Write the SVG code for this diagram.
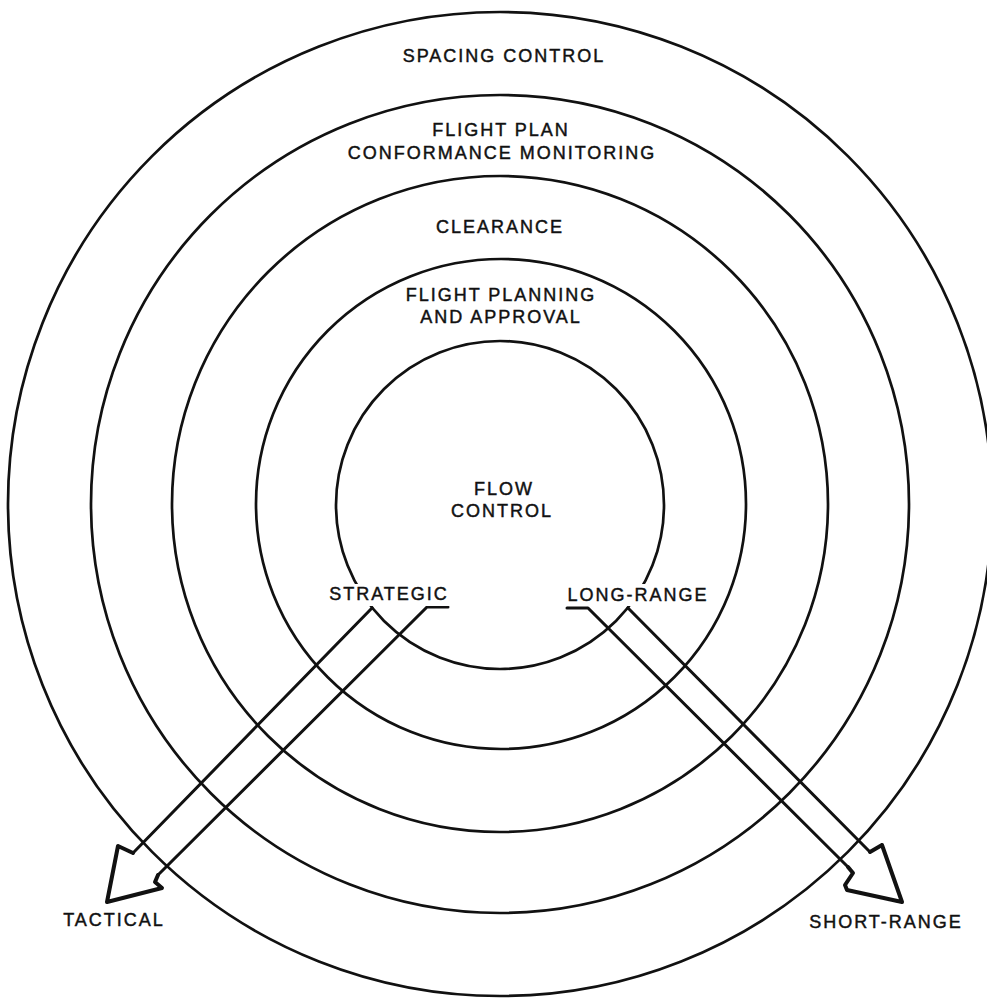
<svg xmlns="http://www.w3.org/2000/svg" width="987" height="999" viewBox="0 0 987 999">
  <style>
    .ring { fill: none; stroke: #111; stroke-width: 2.7; }
    .lbl { font-family: "Liberation Sans", Arial, Helvetica, sans-serif; font-size: 18px; letter-spacing: 2px; fill: #111; stroke: #111; stroke-width: 0.45; text-anchor: middle; }
    .shaft { fill: none; stroke: #111; stroke-width: 3; stroke-linejoin: round; stroke-linecap: round; }
    .head { fill: none; stroke: #111; stroke-width: 4; stroke-linejoin: round; stroke-linecap: round; }
  </style>
  <rect x="0" y="0" width="987" height="999" fill="#fff"/>

  <g id="spacing-control">
    <circle class="ring" cx="500" cy="504" r="492"/>
    <text class="lbl" x="504" y="62">SPACING CONTROL</text>
  </g>
  <g id="conformance-monitoring">
    <circle class="ring" cx="500" cy="504" r="409"/>
    <text class="lbl" x="501" y="136">FLIGHT PLAN</text>
    <text class="lbl" x="502" y="159">CONFORMANCE MONITORING</text>
  </g>
  <g id="clearance">
    <circle class="ring" cx="500" cy="504" r="328"/>
    <text class="lbl" x="500" y="233">CLEARANCE</text>
  </g>
  <g id="flight-planning">
    <circle class="ring" cx="501" cy="504" r="245"/>
    <text class="lbl" x="501" y="301">FLIGHT PLANNING</text>
    <text class="lbl" x="501" y="323">AND APPROVAL</text>
  </g>
  <g id="flow-control">
    <circle class="ring" cx="500" cy="505" r="164"/>
    <text class="lbl" x="504" y="495">FLOW</text>
    <text class="lbl" x="502" y="517">CONTROL</text>
  </g>

  <g id="connectors">
    <g id="strategic-tactical">
      <path class="shaft" d="M448,607 L427,607 L158,875 M133,853 L372,608"/>
      <path class="head" d="M158,875 L155,882 L162,888 L107,902 L118,846 L133,853"/>
    </g>
    <g id="longrange-shortrange">
      <path class="shaft" d="M567,608 L588,608 L848,867 M870,852 L628,608"/>
      <path class="head" d="M848,867 L853,873 L845,885 L847,890 L902,902 L882,845 L870,852"/>
    </g>
  </g>

  <g id="strategic">
    <rect x="326" y="584" width="125" height="22" fill="#fff"/>
    <text class="lbl" x="389" y="600">STRATEGIC</text>
  </g>
  <g id="long-range">
    <rect x="564" y="584" width="146" height="22" fill="#fff"/>
    <text class="lbl" x="638" y="601">LONG-RANGE</text>
  </g>
  <g id="tactical">
    <text class="lbl" x="114" y="926">TACTICAL</text>
  </g>
  <g id="short-range">
    <text class="lbl" x="886" y="928">SHORT-RANGE</text>
  </g>
</svg>
